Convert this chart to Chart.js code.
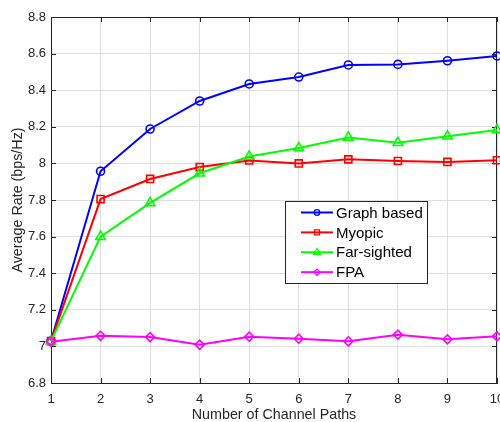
<!DOCTYPE html>
<html>
<head>
<meta charset="utf-8">
<script src="https://cdn.jsdelivr.net/npm/chart.js@4"></script>
<style>
  html, body { margin: 0; padding: 0; background: #ffffff; overflow: hidden; }
  canvas { display: block; }
</style>
</head>
<body>
<canvas id="rate" width="500" height="422"></canvas>
<script>
// Number of channel paths on the x axis
const paths = [1, 2, 3, 4, 5, 6, 7, 8, 9, 10];
const xTickLabels = ['1', '2', '3', '4', '5', '6', '7', '8', '9', '10'];
const yTickLabels = ['6.8', '7', '7.2', '7.4', '7.6', '7.8', '8', '8.2', '8.4', '8.6', '8.8'];

// Average rate (bps/Hz) per scheme
const graphBased = [7.029, 7.957, 8.188, 8.341, 8.434, 8.472, 8.538, 8.541, 8.561, 8.587];
const myopic     = [7.029, 7.805, 7.915, 7.980, 8.016, 8.000, 8.022, 8.013, 8.008, 8.017];
const farSighted = [7.029, 7.600, 7.784, 7.946, 8.038, 8.084, 8.142, 8.113, 8.148, 8.183];
const fpa        = [7.026, 7.058, 7.051, 7.009, 7.053, 7.042, 7.028, 7.064, 7.039, 7.055];

const seriesNames = ['Graph based', 'Myopic', 'Far-sighted', 'FPA'];

const FONT = '"Liberation Sans", Arial, Helvetica, sans-serif';
const AXIS = '#262626';
const GRID = '#dfdfdf';

const toPoints = (vals) => vals.map((v, i) => ({ x: paths[i], y: v }));

function series(label, vals, color, style, radius, order) {
  return {
    label,
    data: toPoints(vals),
    borderColor: color,
    backgroundColor: 'rgba(0,0,0,0)',
    borderWidth: 2,
    pointStyle: style,
    pointRadius: radius,
    pointHoverRadius: radius,
    pointBorderColor: color,
    pointBackgroundColor: 'rgba(0,0,0,0)',
    pointBorderWidth: 1.6,
    tension: 0,
    clip: false,
    order
  };
}

// Box outline and inward tick marks on all four sides
const frame = {
  id: 'frame',
  beforeDatasetsDraw(chart) {
    const { ctx, chartArea: a, scales: { x, y } } = chart;
    const len = 5;
    ctx.save();
    ctx.strokeStyle = AXIS;
    ctx.lineWidth = 1;
    ctx.beginPath();
    ctx.moveTo(a.left, a.top + 0.5);
    ctx.lineTo(a.right, a.top + 0.5);
    ctx.moveTo(a.right - 0.5, a.top);
    ctx.lineTo(a.right - 0.5, a.bottom);
    x.ticks.forEach(t => {
      const px = Math.round(x.getPixelForValue(t.value)) + 0.5;
      ctx.moveTo(px, a.bottom);
      ctx.lineTo(px, a.bottom - len);
      ctx.moveTo(px, a.top);
      ctx.lineTo(px, a.top + len);
    });
    y.ticks.forEach(t => {
      const py = Math.round(y.getPixelForValue(t.value)) + 0.5;
      ctx.moveTo(a.left, py);
      ctx.lineTo(a.left + len, py);
      ctx.moveTo(a.right, py);
      ctx.lineTo(a.right - len, py);
    });
    ctx.stroke();
    ctx.restore();
  }
};

// Boxed legend with a line sample and marker for each series
const boxLegend = {
  id: 'boxLegend',
  afterDraw(chart) {
    const { ctx } = chart;
    const bx = 285.5, by = 201.5, bw = 142, bh = 82;
    ctx.save();
    ctx.fillStyle = '#ffffff';
    ctx.fillRect(bx, by, bw, bh);
    ctx.strokeStyle = AXIS;
    ctx.lineWidth = 1;
    ctx.strokeRect(bx, by, bw, bh);
    ctx.font = '15px ' + FONT;
    ctx.textBaseline = 'middle';
    ctx.textAlign = 'left';
    chart.data.datasets.forEach((ds, i) => {
      const cy = 212.5 + i * 19.9;
      ctx.strokeStyle = ds.borderColor;
      ctx.lineWidth = 2;
      ctx.beginPath();
      ctx.moveTo(301, cy);
      ctx.lineTo(333, cy);
      ctx.stroke();
      ctx.lineWidth = 1.3;
      ctx.fillStyle = 'rgba(0,0,0,0)';
      Chart.helpers.drawPoint(ctx, { pointStyle: ds.pointStyle, radius: ds.pointRadius * 0.7, rotation: 0, borderWidth: 1.3 }, 317, cy);
      ctx.fillStyle = '#000000';
      ctx.fillText(seriesNames[i], 336, cy + 1);
    });
    ctx.restore();
  }
};

new Chart(document.getElementById('rate'), {
  type: 'line',
  data: {
    datasets: [
      series(seriesNames[0], graphBased, '#0000ff', 'circle', 4, 4),
      series(seriesNames[1], myopic, '#ff0000', 'rect', 5, 3),
      series(seriesNames[2], farSighted, '#00ff00', 'triangle', 5.5, 2),
      series(seriesNames[3], fpa, '#ff00ff', 'rectRot', 4.5, 1)
    ]
  },
  options: {
    responsive: false,
    animation: false,
    devicePixelRatio: 1,
    layout: { autoPadding: false, padding: { top: 17, right: 3, left: 0, bottom: 0 } },
    plugins: {
      legend: { display: false },
      tooltip: { enabled: false }
    },
    scales: {
      x: {
        type: 'linear',
        min: 1,
        max: 10,
        afterBuildTicks(scale) {
          scale.ticks = paths.map(v => ({ value: v }));
        },
        afterFit(scale) {
          scale.height = 39;
          scale.paddingLeft = 0;
          scale.paddingRight = 0;
        },
        ticks: {
          color: AXIS,
          font: { family: FONT, size: 13 },
          padding: 9,
          maxRotation: 0,
          autoSkip: false,
          callback: (v) => xTickLabels[paths.indexOf(v)]
        },
        grid: { color: GRID, lineWidth: 1, drawTicks: false },
        border: { display: true, color: AXIS, width: 1 },
        title: {
          display: true,
          text: 'Number of Channel Paths',
          color: AXIS,
          font: { family: FONT, size: 14.3, lineHeight: 1 },
          padding: { top: 0, bottom: 0 }
        }
      },
      y: {
        type: 'linear',
        min: 6.8,
        max: 8.8,
        afterBuildTicks(scale) {
          scale.ticks = yTickLabels.map(s => ({ value: parseFloat(s) }));
        },
        afterFit(scale) {
          scale.width = 51;
          scale.paddingTop = 0;
          scale.paddingBottom = 0;
        },
        ticks: {
          color: AXIS,
          font: { family: FONT, size: 13 },
          padding: 5,
          autoSkip: false,
          callback: (v) => {
            const i = yTickLabels.findIndex(s => Math.abs(parseFloat(s) - v) < 1e-6);
            return i >= 0 ? yTickLabels[i] : '';
          }
        },
        grid: { color: GRID, lineWidth: 1, drawTicks: false },
        border: { display: true, color: AXIS, width: 1 },
        title: {
          display: true,
          text: 'Average Rate (bps/Hz)',
          color: AXIS,
          font: { family: FONT, size: 14.3, lineHeight: 1 },
          padding: { top: 11, bottom: 0 }
        }
      }
    }
  },
  plugins: [frame, boxLegend]
});
</script>
</body>
</html>
